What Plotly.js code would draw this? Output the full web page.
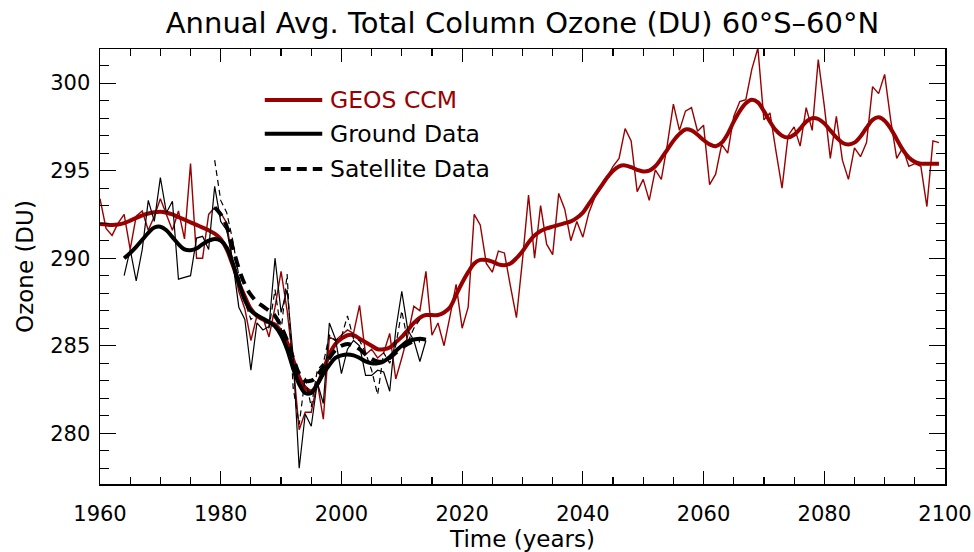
<!DOCTYPE html>
<html>
<head>
<meta charset="utf-8">
<script src="https://cdn.plot.ly/plotly-3.0.1.min.js"></script>
<style>html,body{margin:0;padding:0;background:#fff;}#chart{width:974px;height:552px;}</style>
</head>
<body>
<div id="chart"></div>
<script>
// ---- Data ----
const ccmYears = [];
for (let y = 1960; y <= 2099; y++) ccmYears.push(y);
const ccmAnnual = [
  293.4, 291.7, 291.3, 292.0, 292.5, 290.5, 292.4, 292.7, 291.6, 292.4,
  293.4, 292.5, 291.6, 292.7, 291.1, 295.4, 290.0, 290.0, 292.5, 292.9,
  292.6, 292.0, 289.7, 288.1, 287.1, 285.3, 286.7, 286.6, 285.5, 287.2,
  289.25, 287.0, 284.0, 280.2, 281.2, 281.2, 282.9, 280.8, 285.5, 285.3,
  285.6, 285.9, 285.7, 287.3, 284.5, 284.8, 284.3, 284.6, 285.7, 283.1,
  284.3, 285.6, 287.25, 287.0, 289.25, 285.6, 286.3, 285.0, 286.7, 288.5,
  286.0, 287.2, 292.5, 291.9, 289.7, 289.2, 290.4, 290.3, 288.4, 286.6,
  289.9, 293.6, 290.0, 293.0, 290.8, 290.2, 293.7, 292.8, 291.0, 292.1,
  291.2, 292.6, 293.5, 294.0, 294.6, 295.25, 295.7, 297.4, 296.7, 293.8,
  294.5, 293.3, 295.05, 294.5, 296.5, 298.8, 297.3, 298.4, 298.6, 297.25,
  297.6, 294.2, 294.8, 296.5, 296.0, 298.1, 298.95, 299.05, 300.8, 302.0,
  297.9, 298.3, 296.1, 294.0, 297.0, 297.5, 296.4, 298.6, 297.3, 301.35,
  298.7, 295.7, 298.1, 295.6, 294.5, 296.3, 295.8, 296.6, 299.8, 299.4,
  300.5, 297.9, 295.7, 296.3, 295.25, 295.4, 295.25, 292.95, 296.7, 296.6
];
const ccmSmooth = [
  291.95, 291.92, 291.9, 291.92, 292.0, 292.15, 292.3, 292.45, 292.55, 292.62,
  292.65, 292.6, 292.5, 292.35, 292.2, 292.05, 291.9, 291.75, 291.6, 291.4,
  291.1, 290.5, 289.6, 288.6, 287.8, 287.1, 286.7, 286.5, 286.35, 286.2,
  285.8, 285.2, 284.2, 283.2, 282.6, 282.4, 282.8, 283.6, 284.5, 285.1,
  285.4, 285.6, 285.6, 285.4, 285.2, 285.0, 284.8, 284.8, 284.9, 285.2,
  285.5, 285.9, 286.3, 286.6, 286.75, 286.75, 286.75, 286.9, 287.2, 287.9,
  288.6, 289.2, 289.7, 289.9, 289.9, 289.8, 289.65, 289.6, 289.7, 290.0,
  290.4, 290.9, 291.3, 291.55, 291.7, 291.8, 291.9, 292.0, 292.1, 292.3,
  292.6, 293.1, 293.6, 294.1, 294.6, 295.0, 295.25, 295.3, 295.2, 295.05,
  294.95, 295.0, 295.25, 295.7, 296.2, 296.7, 297.1, 297.35, 297.3, 297.05,
  296.75, 296.5, 296.4, 296.6, 297.1, 297.8, 298.4, 298.85, 299.05, 298.9,
  298.4, 297.8, 297.3, 297.0, 296.9, 297.05, 297.4, 297.8, 298.0, 297.95,
  297.7, 297.3, 296.9, 296.6, 296.5, 296.6, 296.95, 297.45, 297.9, 298.05,
  297.85, 297.4, 296.8, 296.2, 295.75, 295.5, 295.4, 295.4, 295.4, 295.4
];

const groundYears = [];
for (let y = 1964; y <= 2014; y++) groundYears.push(y);
const groundAnnual = [
  289.0, 290.5, 288.7, 290.5, 293.3, 292.1, 294.6, 292.6, 293.25, 288.8,
  288.9, 289.0, 291.15, 291.25, 290.5, 294.1, 292.1, 291.6, 289.8, 287.2,
  286.5, 283.6, 286.3, 285.9, 286.1, 290.0, 286.9, 288.2, 284.4, 278.0,
  281.1, 280.4, 282.9, 281.7, 286.3, 285.4, 283.4, 284.8, 285.3, 285.0,
  283.3, 283.3, 283.6, 283.5, 282.4, 285.9, 288.1, 285.9, 285.3, 284.1,
  285.3
];
const groundSmooth = [
  290.0, 290.3, 290.65, 291.05, 291.45, 291.75, 291.8, 291.6, 291.2, 290.8,
  290.5, 290.45, 290.55, 290.8, 291.0, 291.1, 291.0, 290.6, 289.7, 288.6,
  287.6, 287.0, 286.75, 286.55, 286.35, 286.1, 285.6, 284.8, 283.7, 282.8,
  282.3, 282.3, 282.8, 283.4, 283.9, 284.3, 284.45, 284.5, 284.45, 284.3,
  284.1, 284.0, 284.0, 284.1, 284.35, 284.7, 285.0, 285.25, 285.35, 285.4,
  285.35
];

const satYears = [];
for (let y = 1979; y <= 2013; y++) satYears.push(y);
const satAnnual = [
  295.6, 293.3, 292.6, 291.0, 289.0, 287.5, 286.5, 286.8, 286.6, 286.0,
  288.2, 285.8, 289.1, 282.6, 280.5, 283.2, 281.5, 283.6, 284.0, 285.6,
  285.3, 285.5, 286.7, 285.4, 285.3, 284.6, 283.6, 282.2, 284.6, 284.0,
  285.0, 287.0, 285.2, 286.0, 286.5
];
const satSmooth = [
  292.9, 292.5, 291.8, 290.6, 289.4, 288.5, 287.9, 287.5, 287.25, 287.0,
  286.7, 286.1, 285.3, 284.3, 283.4, 283.0, 283.0, 283.3, 283.8, 284.3,
  284.75, 285.0, 285.1, 285.0, 284.8, 284.5, 284.25, 284.1, 284.1, 284.3,
  284.6, 284.9, 285.1, 285.25, 285.3
];

const legendNames = ['GEOS CCM', 'Ground Data', 'Satellite Data'];
const xTickVals = [1960, 1980, 2000, 2020, 2040, 2060, 2080, 2100];
const yTickVals = [280, 285, 290, 295, 300];

// ---- Styles ----
const RED = '#990000';
const FONT = 'DejaVu Sans, sans-serif';

const traces = [
  {x: ccmYears, y: ccmAnnual, mode: 'lines', line: {color: RED, width: 1.4}, showlegend: false, hoverinfo: 'skip'},
  {x: ccmYears, y: ccmSmooth, mode: 'lines', line: {color: RED, width: 4, shape: 'spline'}, showlegend: false, hoverinfo: 'skip'},
  {x: groundYears, y: groundAnnual, mode: 'lines', line: {color: '#000', width: 1.2}, showlegend: false, hoverinfo: 'skip'},
  {x: satYears, y: satAnnual, mode: 'lines', line: {color: '#000', width: 1.2, dash: '6px,4px'}, showlegend: false, hoverinfo: 'skip'},
  {x: groundYears, y: groundSmooth, mode: 'lines', line: {color: '#000', width: 4, shape: 'spline'}, showlegend: false, hoverinfo: 'skip'},
  {x: satYears, y: satSmooth, mode: 'lines', line: {color: '#000', width: 4, shape: 'spline', dash: '11px,7px'}, showlegend: false, hoverinfo: 'skip'}
];

// legend drawn as shapes + annotations
const legX0 = 0.195, legX1 = 0.263, legTextX = 0.27;
const legY = [0.883, 0.805, 0.724];
const legColors = [RED, '#000', '#000'];
const legDash = ['solid', 'solid', '10px,6px'];
const shapes = legY.map((yy, i) => ({
  type: 'line', xref: 'paper', yref: 'paper', x0: legX0, x1: legX1, y0: yy, y1: yy,
  line: {color: legColors[i], width: 4, dash: legDash[i]}
}));
const annotations = legY.map((yy, i) => ({
  xref: 'paper', yref: 'paper', x: legTextX, y: yy, xanchor: 'left', yanchor: 'middle',
  text: legendNames[i], showarrow: false, font: {family: FONT, size: 23.5, color: i === 0 ? RED : '#000'}
}));

const layout = {
  width: 974, height: 552,
  margin: {l: 100, r: 29, t: 49, b: 68},
  paper_bgcolor: '#fff', plot_bgcolor: '#fff',
  showlegend: false,
  title: {text: 'Annual Avg. Total Column Ozone (DU) 60°S–60°N', font: {family: FONT, size: 29, color: '#000'},
          x: 0.5, xref: 'paper', y: 0.958, yref: 'container', yanchor: 'middle'},
  xaxis: {
    range: [1960, 2100], tickvals: xTickVals, ticktext: xTickVals.map(String),
    ticks: 'inside', ticklen: 13, tickwidth: 1.2, tickcolor: '#000',
    minor: {dtick: 5, tick0: 1960, ticks: 'inside', ticklen: 7, tickwidth: 1.2, tickcolor: '#000', showgrid: false},
    showline: true, linecolor: '#000', linewidth: 1.5, mirror: 'ticks',
    showgrid: false, zeroline: false,
    tickfont: {family: FONT, size: 21, color: '#000'},
    ticklabelstandoff: 10,
    title: {text: 'Time (years)', font: {family: FONT, size: 23, color: '#000'}, standoff: 4}
  },
  yaxis: {
    range: [277.1, 301.95], tickvals: yTickVals, ticktext: yTickVals.map(String),
    ticks: 'inside', ticklen: 16, tickwidth: 1.2, tickcolor: '#000',
    minor: {dtick: 1, tick0: 277, ticks: 'inside', ticklen: 9, tickwidth: 1.2, tickcolor: '#000', showgrid: false},
    showline: true, linecolor: '#000', linewidth: 1.5, mirror: 'ticks',
    showgrid: false, zeroline: false,
    tickfont: {family: FONT, size: 21, color: '#000'},
    ticklabelstandoff: 4,
    title: {text: 'Ozone (DU)', font: {family: FONT, size: 23, color: '#000'}, standoff: 10}
  },
  shapes: shapes,
  annotations: annotations
};

Plotly.newPlot('chart', traces, layout, {displayModeBar: false, staticPlot: true});
</script>
</body>
</html>
